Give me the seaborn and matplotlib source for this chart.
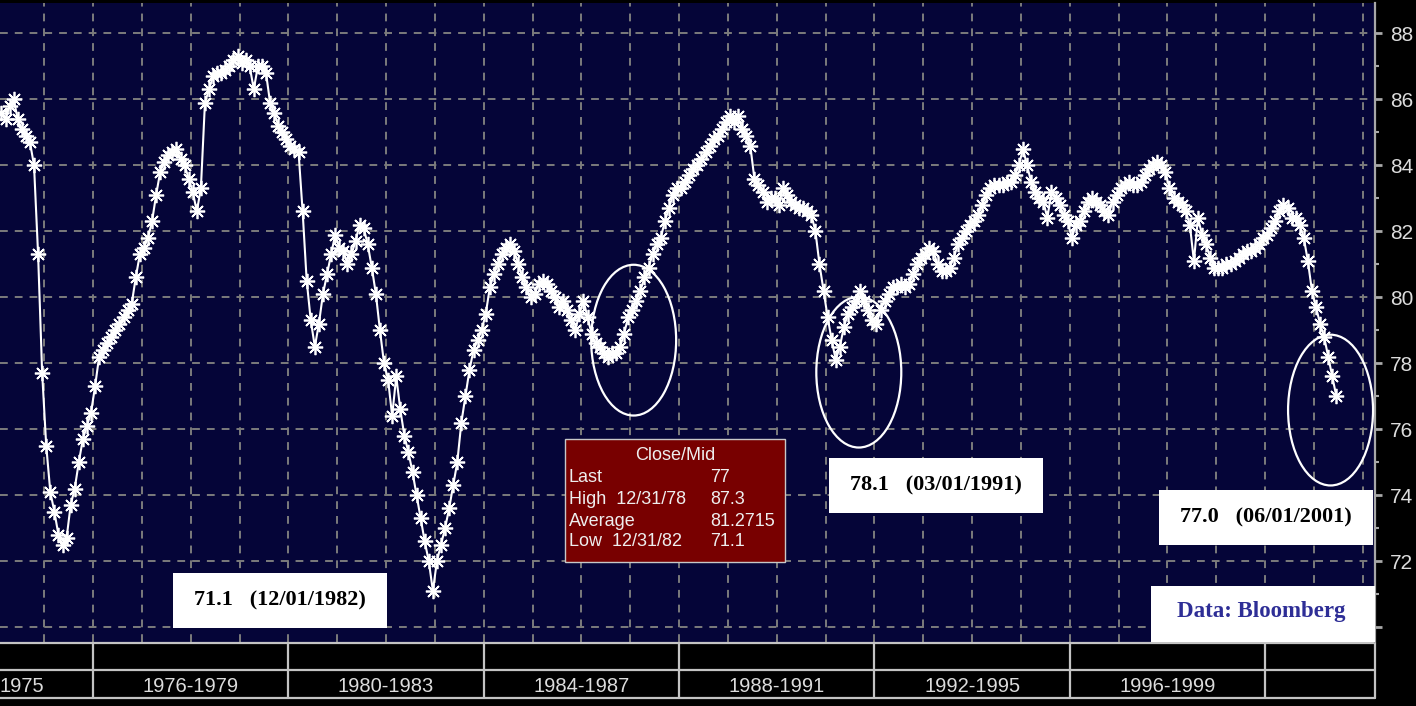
import numpy as np
import pandas as pd
import seaborn as sns
import matplotlib.pyplot as plt
import matplotlib.transforms as mtransforms
from matplotlib.patches import Ellipse, Rectangle
from matplotlib.lines import Line2D

# Monthly capacity utilization (%), Feb 1974 - Jun 2001, grouped by the 4-year bands of the time axis
cu_1972_1975 = [85.6, 85.4, 85.8, 86.0, 85.4, 85.1, 84.9, 84.7, 84.0, 81.3, 77.7,
                75.5, 74.1, 73.5, 72.8, 72.5, 72.7, 73.7, 74.2, 75.0, 75.7, 76.1, 76.5]
cu_1976_1979 = [77.3, 78.2, 78.4, 78.6, 78.8, 79.0, 79.2, 79.4, 79.6, 79.8, 80.6, 81.3,
                81.5, 81.8, 82.3, 83.1, 83.8, 84.1, 84.3, 84.4, 84.5, 84.2, 84.0, 83.6,
                83.2, 82.6, 83.3, 85.9, 86.3, 86.7, 86.8, 86.8, 86.9, 87.0, 87.2, 87.3,
                87.1, 87.2, 87.0, 86.3, 87.0, 87.0, 86.8, 85.9, 85.6, 85.2, 85.0, 84.8]
cu_1980_1983 = [84.6, 84.5, 84.4, 82.6, 80.5, 79.3, 78.5, 79.2, 80.1, 80.7, 81.3, 81.9,
                81.5, 81.4, 81.0, 81.3, 81.7, 82.2, 82.1, 81.6, 80.9, 80.1, 79.0, 78.0,
                77.5, 76.4, 77.6, 76.6, 75.8, 75.3, 74.7, 74.0, 73.3, 72.6, 72.0, 71.1,
                72.0, 72.5, 73.0, 73.6, 74.3, 75.0, 76.2, 77.0, 77.8, 78.4, 78.7, 79.0]
cu_1984_1987 = [79.5, 80.3, 80.7, 81.0, 81.3, 81.5, 81.6, 81.4, 81.0, 80.6, 80.3, 80.0,
                80.1, 80.4, 80.5, 80.4, 80.2, 80.0, 79.7, 79.9, 79.6, 79.3, 79.0, 79.5,
                79.9, 79.4, 78.9, 78.6, 78.5, 78.3, 78.2, 78.3, 78.3, 78.5, 78.9, 79.4,
                79.6, 79.9, 80.2, 80.6, 80.9, 81.3, 81.6, 81.8, 82.3, 82.7, 83.1, 83.3]
cu_1988_1991 = [83.3, 83.5, 83.7, 83.9, 84.0, 84.2, 84.4, 84.6, 84.8, 84.9, 85.1, 85.3,
                85.5, 85.3, 85.5, 85.1, 84.9, 84.6, 83.6, 83.4, 83.2, 82.9, 83.0, 83.0,
                82.8, 83.3, 83.1, 82.9, 82.8, 82.7, 82.7, 82.6, 82.5, 82.0, 81.0, 80.2,
                79.4, 78.7, 78.1, 78.5, 79.1, 79.5, 79.7, 79.9, 80.2, 79.9, 79.6, 79.3]
cu_1992_1995 = [79.2, 79.6, 79.9, 80.1, 80.3, 80.3, 80.4, 80.3, 80.4, 80.7, 81.0, 81.2,
                81.3, 81.5, 81.4, 81.0, 80.8, 80.8, 80.9, 81.2, 81.6, 81.8, 82.0, 82.2,
                82.3, 82.5, 82.8, 83.1, 83.3, 83.4, 83.4, 83.4, 83.5, 83.5, 83.7, 84.0,
                84.5, 84.0, 83.5, 83.2, 83.0, 82.9, 82.4, 83.2, 83.0, 82.8, 82.5, 82.3]
cu_1996_1999 = [81.8, 82.2, 82.3, 82.6, 82.9, 83.0, 82.9, 82.8, 82.6, 82.5, 82.9, 83.1,
                83.3, 83.4, 83.5, 83.4, 83.4, 83.5, 83.7, 83.9, 84.0, 84.1, 84.0, 83.8,
                83.3, 83.0, 82.9, 82.8, 82.6, 82.2, 81.1, 82.4, 81.9, 81.6, 81.2, 80.9,
                80.9, 80.9, 81.0, 81.0, 81.1, 81.2, 81.3, 81.4, 81.4, 81.5, 81.6, 81.8]
cu_2000_2003 = [81.9, 82.1, 82.3, 82.6, 82.8, 82.7, 82.4, 82.4, 82.2, 81.8, 81.1, 80.2,
                79.7, 79.2, 78.8, 78.2, 77.6, 77.0]

period_starts = [1972, 1976, 1980, 1984, 1988, 1992, 1996, 2000]
# first band is cut by the left edge: only its end year shows
period_labels = ["1975", "1976-1979", "1980-1983", "1984-1987",
                 "1988-1991", "1992-1995", "1996-1999"]
ytick_values = [70, 72, 74, 76, 78, 80, 82, 84, 86, 88]
ytick_labels = ["", "72", "74", "76", "78", "80", "82", "84", "86", "88"]

stats_title = "Close/Mid"
stats_names = ["Last", "High  12/31/78", "Average", "Low  12/31/82"]
stats_values = ["77", "87.3", "81.2715", "71.1"]

callout_texts = ["71.1   (12/01/1982)", "78.1   (03/01/1991)", "77.0   (06/01/2001)"]
source_text = "Data: Bloomberg"

values = cu_1972_1975 + cu_1976_1979 + cu_1980_1983 + cu_1984_1987 + \
    cu_1988_1991 + cu_1992_1995 + cu_1996_1999 + cu_2000_2003
# mid-month positions starting Feb 1974
t = 1974 + (np.arange(len(values)) + 1.5) / 12
df = pd.DataFrame({"t": t, "cu": values})

sns.set_style("dark")
plt.rcParams["font.family"] = ["Liberation Sans", "DejaVu Sans"]

W, H = 1416, 706
fig = plt.figure(figsize=(W / 100, H / 100), dpi=100, facecolor="black")
ax = fig.add_axes([0, 1 - 642 / H, 1375 / W, 639 / H])
ax.set_facecolor("#050538")

x_lo, x_hi = 1974.095, 2002.25
ax.set_xlim(x_lo, x_hi)
ax.set_ylim(69.55, 88.92)

sns.lineplot(data=df, x="t", y="cu", ax=ax, color="white", lw=1.5,
             marker=(8, 2, 0), markersize=11, markeredgewidth=1.25,
             markeredgecolor="white", zorder=3)
ax.set_xlabel("")
ax.set_ylabel("")

# grid
ax.set_xticks(np.arange(1975, 2003))
ax.set_yticks(ytick_values)
ax.set_yticklabels(ytick_labels)
ax.set_yticks(np.arange(71, 89, 2), minor=True)
ax.grid(True, which="major", color="#7c7c7c", linestyle=(0, (4, 3.6)), lw=1.4)
ax.set_axisbelow(True)
ax.tick_params(axis="x", length=0, labelbottom=False)
ax.yaxis.tick_right()
ax.tick_params(axis="y", which="major", colors="#a8a8a8", labelcolor="#dcdcdc",
               length=5, width=2, pad=6, labelsize=15, direction="out")
ax.tick_params(axis="y", which="minor", colors="#a8a8a8", length=3, width=1.5,
               direction="out")
for side in ["left", "top", "bottom"]:
    ax.spines[side].set_visible(False)
ax.spines["right"].set_color("#a8a8a8")
ax.spines["right"].set_linewidth(1.6)

# time band boxes under the plot
trans = mtransforms.blended_transform_factory(ax.transData, ax.transAxes)


def ay(p):
    return (642 - p) / 639


band_color = "#c4c4c4"
for p in [643, 670, 698]:
    ax.add_line(Line2D([x_lo, x_hi], [ay(p), ay(p)], transform=trans,
                       color=band_color, lw=1.6, clip_on=False))
for s in period_starts[1:] + [x_hi]:
    ax.add_line(Line2D([s, s], [ay(643), ay(698)], transform=trans,
                       color=band_color, lw=1.6, clip_on=False))
for i, (s, lab) in enumerate(zip(period_starts, period_labels)):
    if i == 0:
        # visible tail of the cut first band, ending just right of its own box edge
        ax.text(1975.0, ay(686), lab, transform=trans, ha="right", va="center",
                color="#dcdcdc", fontsize=14.5, clip_on=False)
    else:
        ax.text(s + 2, ay(686), lab, transform=trans, ha="center", va="center",
                color="#dcdcdc", fontsize=14.5, clip_on=False)

# ellipses around the lows
for cx, cy in [(1987.07, 78.70), (1991.68, 77.73), (2001.34, 76.58)]:
    ax.add_patch(Ellipse((cx, cy), 1.74, 4.57, fill=False, ec="white",
                         lw=1.6, zorder=5))


def fig_box(x0, y0, x1, y1, **kw):
    r = Rectangle((x0 / W, 1 - y1 / H), (x1 - x0) / W, (y1 - y0) / H,
                  transform=fig.transFigure, zorder=10, **kw)
    fig.add_artist(r)


serif = ["Liberation Serif", "DejaVu Serif"]
for (x0, y0, x1, y1), txt in zip([(173, 573, 387, 628), (829, 458, 1043, 513),
                                  (1159, 490, 1373, 545)], callout_texts):
    fig_box(x0, y0, x1, y1, facecolor="white", edgecolor="none")
    fig.text((x0 + x1) / 2 / W, 1 - (y0 + y1) / 2 / H, txt, ha="center",
             va="center", fontsize=16, fontweight="bold", family=serif,
             color="black", zorder=11)

fig_box(1151, 586, 1375, 642, facecolor="white", edgecolor="none")
fig.text(1261 / W, 1 - 612 / H, source_text, ha="center", va="center",
         fontsize=16.5, fontweight="bold", family=serif, color="#2e2e96", zorder=11)

# statistics box
fig_box(565, 439, 785, 562, facecolor="#780000", edgecolor="#c8c8c8", lw=1)
fig.text(675 / W, 1 - 455 / H, stats_title, ha="center", va="center",
         fontsize=13, color="#eeeeee", zorder=11)
for row_y, name, val in zip([477, 499, 521, 542], stats_names, stats_values):
    fig.text(569 / W, 1 - row_y / H, name, ha="left", va="center",
             fontsize=13, color="#eeeeee", zorder=11)
    fig.text(710 / W, 1 - row_y / H, val, ha="left", va="center",
             fontsize=13, color="#eeeeee", zorder=11)

fig.savefig("out.png", dpi=100, facecolor="black")
